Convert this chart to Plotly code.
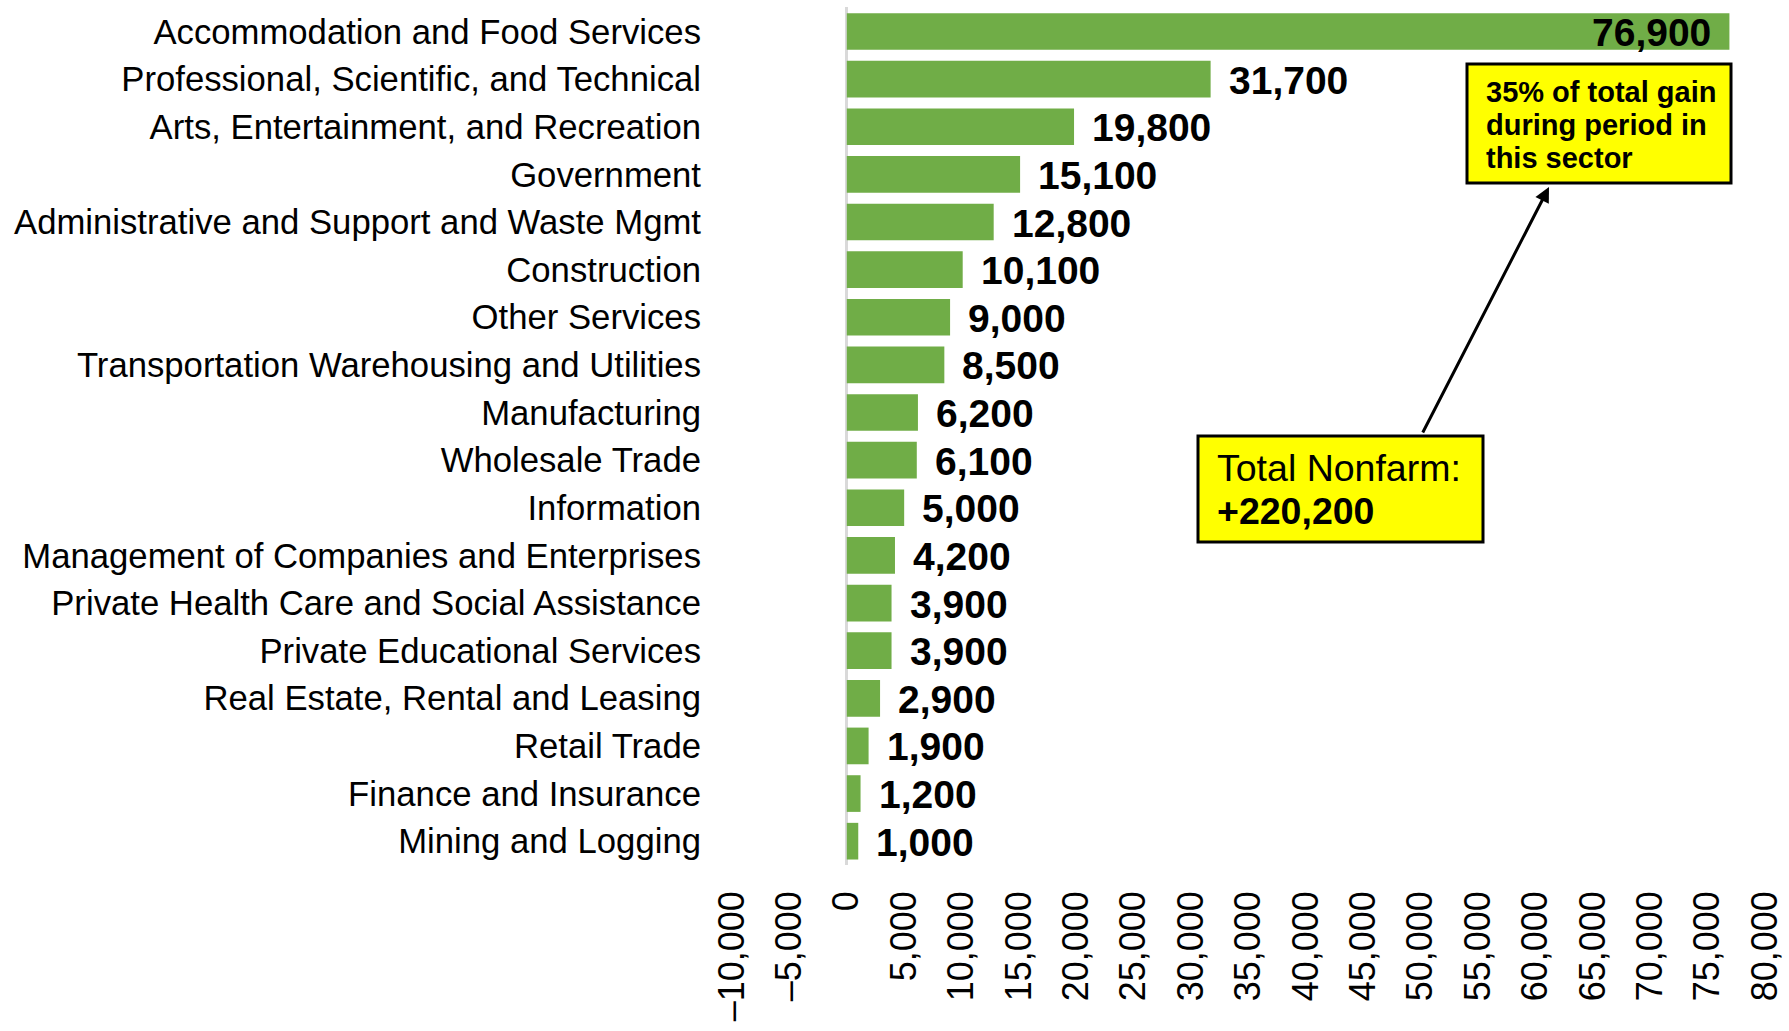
import plotly.graph_objects as go

categories = [
    "Accommodation and Food Services",
    "Professional, Scientific, and Technical",
    "Arts, Entertainment, and Recreation",
    "Government",
    "Administrative and Support and Waste Mgmt",
    "Construction",
    "Other Services",
    "Transportation Warehousing and Utilities",
    "Manufacturing",
    "Wholesale Trade",
    "Information",
    "Management of Companies and Enterprises",
    "Private Health Care and Social Assistance",
    "Private Educational Services",
    "Real Estate, Rental and Leasing",
    "Retail Trade",
    "Finance and Insurance",
    "Mining and Logging",
]
values = [76900, 31700, 19800, 15100, 12800, 10100, 9000, 8500, 6200,
          6100, 5000, 4200, 3900, 3900, 2900, 1900, 1200, 1000]
tick_vals = list(range(-10000, 80001, 5000))
tick_text = [f"{v:,}".replace("-", "\u2013") for v in tick_vals]

note_lines = ["35% of total gain", "during period in", "this sector"]
total_lines = ["Total Nonfarm:", "<b>+220,200</b>"]

FONT = "Liberation Sans, Arial, sans-serif"
W, H = 1789, 1031
ML, MR, MT, MB = 732, 24, 7, 166
PW, PH = W - ML - MR, H - MT - MB


def px(x):
    return (x - ML) / PW


def py(y):
    return 1 - (y - MT) / PH


fig = go.Figure(go.Bar(
    y=categories, x=values, orientation="h",
    marker=dict(color="#70AD47", line=dict(width=0)),
    hoverinfo="skip",
))

fig.update_layout(
    width=W, height=H,
    margin=dict(l=ML, r=MR, t=MT, b=MB, autoexpand=False),
    paper_bgcolor="white", plot_bgcolor="white",
    bargap=0.23,
    showlegend=False,
    font=dict(family=FONT, color="black"),
)
fig.update_xaxes(
    range=[-10000, 80000], tickvals=tick_vals, ticktext=tick_text,
    tickangle=-90, tickfont=dict(size=36, family=FONT, color="black"),
    showgrid=False, showline=False, ticks="",
    zeroline=True, zerolinecolor="#d9d9d9", zerolinewidth=3,
    ticklabelstandoff=18, automargin=False,
)
fig.update_yaxes(
    autorange="reversed", tickfont=dict(size=34.7, family=FONT, color="black"),
    showgrid=False, showline=False, ticks="", ticklabelstandoff=30,
    automargin=False,
)

# value labels
for i, (c, v) in enumerate(zip(categories, values)):
    inside = i == 0
    fig.add_annotation(
        x=v, y=c, xref="x", yref="y",
        text=f"<b>{v:,}</b>", showarrow=False,
        xanchor="right" if inside else "left", yanchor="middle",
        xshift=-16 if inside else 16, yshift=-1,
        font=dict(family=FONT, size=39, color="black"),
    )

# boxes
fig.add_shape(type="rect", xref="paper", yref="paper",
              x0=px(1467), x1=px(1731), y0=py(183), y1=py(64),
              fillcolor="#FFFF00", line=dict(color="black", width=3))
fig.add_shape(type="rect", xref="paper", yref="paper",
              x0=px(1198), x1=px(1483), y0=py(542), y1=py(436),
              fillcolor="#FFFF00", line=dict(color="black", width=3))

for line, yc in zip(note_lines, [92, 125, 158]):
    fig.add_annotation(
        xref="paper", yref="paper", x=px(1484), y=py(yc),
        xanchor="left", yanchor="middle", text=f"<b>{line}</b>",
        showarrow=False, font=dict(family=FONT, size=29, color="black"),
    )
for line, yc in zip(total_lines, [468, 511]):
    fig.add_annotation(
        xref="paper", yref="paper", x=px(1215), y=py(yc),
        xanchor="left", yanchor="middle", text=line,
        showarrow=False, font=dict(family=FONT, size=37.5, color="black"),
    )

fig.add_annotation(
    xref="paper", yref="paper", x=px(1549), y=py(187),
    ax=1422 - 1549, ay=434 - 187, text="",
    showarrow=True, arrowhead=2, arrowsize=1, arrowwidth=3,
    arrowcolor="black", standoff=0, startstandoff=0,
)

fig.write_html("out.html", config={"displayModeBar": False},
               post_script="document.body.style.margin='0';")
